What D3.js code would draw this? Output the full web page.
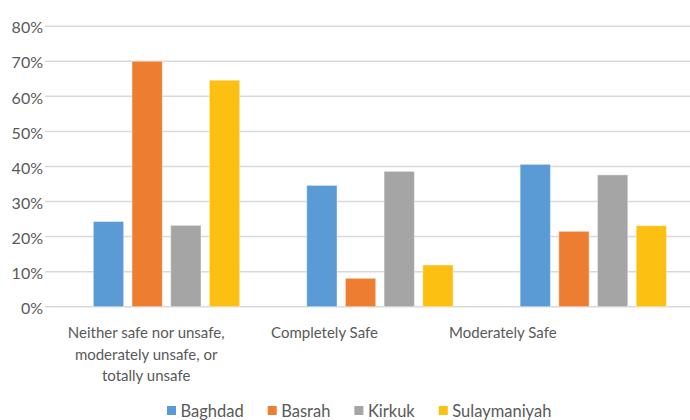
<!DOCTYPE html>
<meta charset="utf-8">
<head>
  <title>Safety perception by city</title>
</head>
<style>
  body { margin: 0; background: #fff; }
  .ticktext { font-family: "Lato", sans-serif; font-size: 16px; fill: #595959; }
  .cattext { font-family: "Lato", sans-serif; font-size: 15px; fill: #595959; }
  .legendtext { font-family: "Lato", sans-serif; font-size: 16.5px; fill: #595959; }
</style>
<body>
<svg id="chart" width="690" height="420"></svg>
<script src="https://cdn.jsdelivr.net/npm/d3@7"></script>
<script>
var categories = [
  ["Neither safe nor unsafe,", "moderately unsafe, or", "totally unsafe"],
  ["Completely Safe"],
  ["Moderately Safe"]
];
var series = ["Baghdad", "Basrah", "Kirkuk", "Sulaymaniyah"];
var colors = ["#5B9BD5", "#ED7D31", "#A5A5A5", "#FBC012"];
var baghdad = [24.3, 34.6, 40.6];
var basrah = [70.0, 8.1, 21.5];
var kirkuk = [23.2, 38.6, 37.6];
var sulaymaniyah = [64.6, 11.9, 23.1];
var yTicks = [0, 10, 20, 30, 40, 50, 60, 70, 80];

var values = [baghdad, basrah, kirkuk, sulaymaniyah];
var catIdx = categories.map(function(d, i) { return i; });

var svg = d3.select("#chart");

var y = d3.scaleLinear().domain([0, 80]).range([306.7, 26.2]);

// bar groups
var x0 = d3.scaleBand().domain(catIdx).range([59.8, 700]).paddingInner(0).paddingOuter(0);
var x1 = d3.scaleBand().domain(series).range([33.5, x0.bandwidth() - 33.5]).paddingInner(0.215).paddingOuter(0);
// labels sit on their own spacing in the picture
var xl = d3.scaleBand().domain(catIdx).range([57, 592]);

// gridlines
svg.append("g").selectAll("line")
  .data(yTicks)
  .enter()
  .append("line")
  .attr("x1", 45)
  .attr("x2", 690)
  .attr("y1", function(d) { return y(d); })
  .attr("y2", function(d) { return y(d); })
  .style("stroke", "#d9d9d9")
  .style("stroke-width", 1.5);

svg.append("g").selectAll("text")
  .data(yTicks)
  .enter()
  .append("text")
  .attr("class", "ticktext")
  .attr("x", 43)
  .attr("y", function(d) { return y(d); })
  .attr("dy", "0.45em")
  .attr("text-anchor", "end")
  .text(function(d) { return d + "%"; });

// bars
var groups = svg.append("g").selectAll("g")
  .data(catIdx)
  .enter()
  .append("g")
  .attr("transform", function(c) { return "translate(" + x0(c) + ",0)"; });

groups.selectAll("rect")
  .data(function(c) {
    return series.map(function(s, i) { return { s: s, i: i, v: values[i][c] }; });
  })
  .enter()
  .append("rect")
  .attr("x", function(d) { return x1(d.s); })
  .attr("width", x1.bandwidth())
  .attr("y", function(d) { return y(d.v); })
  .attr("height", function(d) { return y(0) - y(d.v); })
  .style("fill", function(d) { return colors[d.i]; })
  .style("stroke", "rgba(255,255,255,0.45)")
  .style("stroke-width", 1);

// category labels
var labels = svg.append("g").selectAll("text")
  .data(catIdx)
  .enter()
  .append("text")
  .attr("class", "cattext")
  .attr("text-anchor", "middle")
  .attr("x", function(c) { return xl(c) + xl.bandwidth() / 2; });

labels.selectAll("tspan")
  .data(function(c) { return categories[c]; })
  .enter()
  .append("tspan")
  .attr("x", function() { return this.parentNode.getAttribute("x"); })
  .attr("y", function(d, i) { return 338 + i * 21.5; })
  .text(function(d) { return d; });

// legend
var lx = 167;
series.forEach(function(s, i) {
  svg.append("rect")
    .attr("x", lx)
    .attr("y", 406)
    .attr("width", 9)
    .attr("height", 9)
    .style("fill", colors[i]);
  var t = svg.append("text")
    .attr("class", "legendtext")
    .attr("x", lx + 13.5)
    .attr("y", 416.5)
    .text(s);
  lx += 13.5 + t.node().getComputedTextLength() + 24;
});
</script>
</body>
</html>
